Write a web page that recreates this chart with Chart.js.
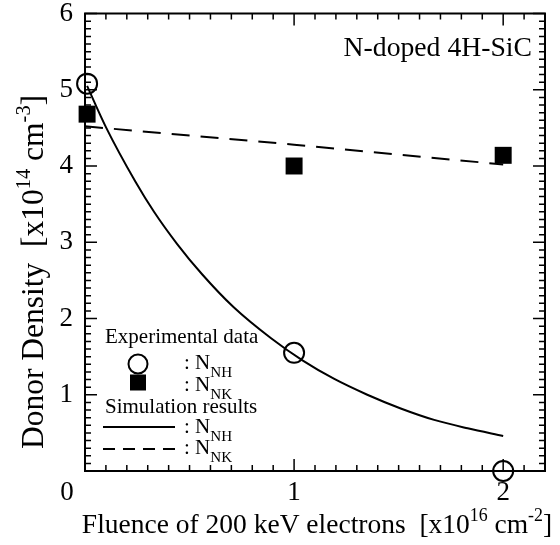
<!DOCTYPE html>
<html lang="en">
<head>
  <meta charset="UTF-8">
  <title>Donor Density vs Fluence</title>
  <script src="https://cdn.jsdelivr.net/npm/chart.js"></script>
  <style>
    body { margin: 0; background: #fff; }
  </style>
</head>
<body>
<canvas id="donorChart" width="560" height="545"></canvas>

<script>
  // values
  const fluenceExp = [0.01, 1, 2];
  const nhExp = [5.08, 1.55, 0.0];
  const nkExp = [4.68, 4.0, 4.14];

  const fluenceSimNH = [0.01, 0.10, 0.24, 0.33, 0.44, 0.56, 0.71, 0.89, 1.04, 1.19, 1.35, 1.51, 1.67, 1.83, 2.00];
  const nhSim = [5.05, 4.51, 3.80, 3.40, 2.98, 2.58, 2.15, 1.74, 1.45, 1.21, 1.00, 0.82, 0.67, 0.56, 0.46];

  const fluenceSimNK = [0, 1, 2];
  const nkSim = [4.52, 4.28, 4.02];

  const xTicks = [1, 2];
  const yTicks = [1, 2, 3, 4, 5, 6];

  const serif = "'Liberation Serif', 'Times New Roman', serif";

  function pts(xs, ys) {
    return xs.map((x, i) => ({ x: x, y: ys[i] }));
  }

  // text with sub/superscripts, segments: [text, 'sup'|'sub'|undefined]
  function richWidth(ctx, segs, size, small) {
    small = small || 0.65;
    let w = 0;
    segs.forEach(s => {
      ctx.font = (s[1] ? size * small : size) + 'px ' + serif;
      w += ctx.measureText(s[0]).width;
    });
    return w;
  }
  function drawRich(ctx, segs, x, y, size, small) {
    small = small || 0.65;
    ctx.textBaseline = 'alphabetic';
    ctx.textAlign = 'left';
    segs.forEach(s => {
      let dy = 0;
      if (s[1] === 'sup') dy = -size * 0.42;
      if (s[1] === 'sub') dy = size * 0.36;
      ctx.font = (s[1] ? size * small : size) + 'px ' + serif;
      ctx.fillText(s[0], x, y + dy);
      x += ctx.measureText(s[0]).width;
    });
  }

  const frameAndText = {
    id: 'frameAndText',
    beforeDatasetsDraw(chart) {
      const ctx = chart.ctx;
      const a = chart.chartArea;
      const xs = chart.scales.x, ys = chart.scales.y;
      ctx.save();
      ctx.strokeStyle = '#000';
      ctx.lineWidth = 1.5;
      ctx.beginPath();
      for (let i = 0; i <= 22; i++) {
        const px = xs.getPixelForValue(i / 10);
        const len = i % 10 === 0 ? 12 : 6;
        ctx.moveTo(px, a.bottom); ctx.lineTo(px, a.bottom - len);
        ctx.moveTo(px, a.top); ctx.lineTo(px, a.top + len);
      }
      for (let i = 0; i <= 60; i++) {
        const py = ys.getPixelForValue(i / 10);
        const len = i % 10 === 0 ? 12 : 6;
        ctx.moveTo(a.left, py); ctx.lineTo(a.left + len, py);
        ctx.moveTo(a.right, py); ctx.lineTo(a.right - len, py);
      }
      ctx.stroke();
      ctx.lineWidth = 2;
      ctx.strokeRect(a.left, a.top, a.right - a.left, a.bottom - a.top);
      ctx.restore();
    },
    afterDraw(chart) {
      const ctx = chart.ctx;
      const a = chart.chartArea;
      ctx.save();
      ctx.fillStyle = '#000';
      ctx.strokeStyle = '#000';

      // corner zero
      ctx.font = '27px ' + serif;
      ctx.textAlign = 'center';
      ctx.textBaseline = 'middle';
      ctx.fillText('0', a.left - 18, a.bottom + 22);

      // x title
      const xt = [['Fluence of 200 keV electrons  [x10'], ['16', 'sup'], [' cm'], ['-2', 'sup'], [']']];
      const xw = richWidth(ctx, xt, 27.5);
      drawRich(ctx, xt, 317 - xw / 2, 533, 27.5);

      // y title
      const yt = [['Donor Density  [x10'], ['14', 'sup'], [' cm'], ['-3', 'sup'], [']']];
      ctx.save();
      ctx.translate(43, 272);
      ctx.rotate(-Math.PI / 2);
      const yw = richWidth(ctx, yt, 31.5);
      drawRich(ctx, yt, -yw / 2, 0, 31.5);
      ctx.restore();

      // sample label
      const lab = [['N-doped 4H-SiC']];
      drawRich(ctx, lab, a.right - 13 - richWidth(ctx, lab, 27.7), 56, 27.7);

      // legend
      const fs = 21;
      drawRich(ctx, [['Experimental data']], 105, 343, fs);
      ctx.lineWidth = 2;
      ctx.beginPath();
      ctx.arc(138, 364, 9.5, 0, Math.PI * 2);
      ctx.stroke();
      drawRich(ctx, [[': N'], ['NH', 'sub']], 184, 369, fs, 0.72);
      ctx.fillRect(130, 374.5, 16, 16);
      drawRich(ctx, [[': N'], ['NK', 'sub']], 184, 391, fs, 0.72);
      drawRich(ctx, [['Simulation results']], 105, 413, fs);
      ctx.beginPath();
      ctx.moveTo(103, 427); ctx.lineTo(175, 427);
      ctx.stroke();
      drawRich(ctx, [[': N'], ['NH', 'sub']], 184, 433, fs, 0.72);
      ctx.setLineDash([12, 8]);
      ctx.beginPath();
      ctx.moveTo(103, 449); ctx.lineTo(175, 449);
      ctx.stroke();
      ctx.setLineDash([]);
      drawRich(ctx, [[': N'], ['NK', 'sub']], 184, 454, fs, 0.72);
      ctx.restore();
    }
  };

  const config = {
    type: 'scatter',
    data: {
      datasets: [
        {
          label: 'NH sim',
          data: pts(fluenceSimNH, nhSim),
          showLine: true,
          borderColor: '#000',
          borderWidth: 2,
          pointRadius: 0,
          cubicInterpolationMode: 'monotone',
          order: 3
        },
        {
          label: 'NK sim',
          data: pts(fluenceSimNK, nkSim),
          showLine: true,
          borderColor: '#000',
          borderWidth: 2,
          borderDash: [18, 11],
          pointRadius: 0,
          order: 4
        },
        {
          label: 'NH exp',
          data: pts(fluenceExp, nhExp),
          pointStyle: 'circle',
          pointRadius: 10,
          borderWidth: 2,
          borderColor: '#000',
          backgroundColor: 'rgba(0,0,0,0)',
          clip: false,
          order: 1
        },
        {
          label: 'NK exp',
          data: pts(fluenceExp, nkExp),
          pointStyle: 'rect',
          pointRadius: 12,
          borderWidth: 0,
          backgroundColor: '#000',
          clip: false,
          order: 2
        }
      ]
    },
    options: {
      responsive: false,
      animation: false,
      devicePixelRatio: 1,
      layout: { padding: { left: 0, right: 15, top: 0, bottom: 0 } },
      plugins: {
        legend: { display: false },
        tooltip: { enabled: false }
      },
      scales: {
        x: {
          type: 'linear',
          min: 0,
          max: 2.2,
          grid: { display: false, drawTicks: false },
          border: { display: false },
          afterBuildTicks: s => { s.ticks = xTicks.map(v => ({ value: v })); },
          afterFit: s => { s.height = 74; },
          ticks: {
            color: '#000',
            padding: 8,
            maxRotation: 0,
            font: { family: serif, size: 27, lineHeight: 1 }
          }
        },
        y: {
          type: 'linear',
          min: 0,
          max: 6,
          // tick length (not drawn) keeps the labels off the axis without adding top padding
          grid: { display: false, drawTicks: true, tickLength: 12, tickColor: 'rgba(0,0,0,0)' },
          border: { display: false },
          afterBuildTicks: s => { s.ticks = yTicks.map(v => ({ value: v })); },
          afterFit: s => { s.width = 85; },
          ticks: {
            color: '#000',
            padding: 0,
            font: { family: serif, size: 27, lineHeight: 1 }
          }
        }
      }
    },
    plugins: [frameAndText]
  };

  const donorChart = new Chart(document.getElementById('donorChart'), config);
</script>
</body>
</html>
